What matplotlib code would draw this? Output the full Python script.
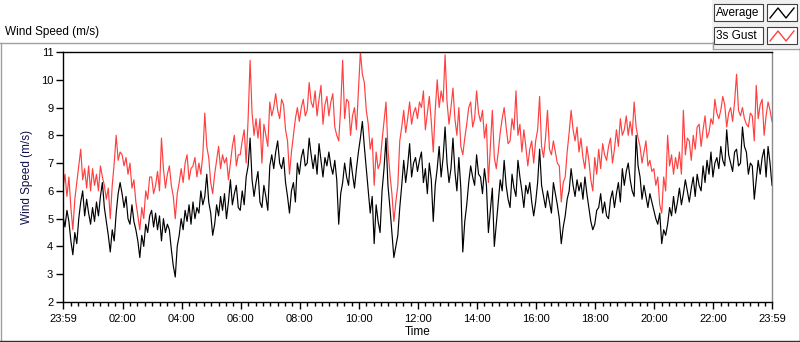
import numpy as np
import matplotlib.pyplot as plt
from matplotlib.lines import Line2D
from matplotlib.patches import Rectangle

plt.rcParams['font.family'] = ['Liberation Sans', 'DejaVu Sans']

# wind speed, one value every 4 minutes from 23:59 (15 per hour)
average = [
    5.1, 4.7, 5.3, 4.9, 4.2, 3.7, 4.5, 4.1, 5.0, 5.6, 6.0, 5.1, 5.7, 5.2, 4.8,
    5.4, 4.9, 5.6, 5.1, 5.8, 6.3, 5.4, 4.9, 4.4, 3.8, 4.6, 4.2, 5.2, 5.9, 6.3,
    5.9, 5.4, 5.8, 5.0, 4.8, 5.5, 4.9, 4.6, 4.2, 3.6, 4.4, 4.0, 4.8, 4.5, 5.1,
    5.3, 4.7, 5.2, 4.6, 5.1, 4.2, 5.0, 4.5, 4.8, 4.6, 3.9, 3.3, 2.9, 4.0, 4.4,
    5.0, 4.6, 5.3, 4.9, 5.5, 4.8, 5.6, 5.0, 5.4, 5.2, 6.0, 5.5, 5.8, 6.6, 5.6,
    5.2, 4.4, 4.8, 5.5, 5.1, 5.8, 5.3, 5.9, 5.0, 5.6, 6.4, 5.5, 5.9, 6.2, 5.4,
    5.3, 6.0, 5.5, 6.5, 6.9, 7.9, 6.4, 5.8, 6.3, 6.7, 5.6, 5.4, 6.2, 5.8, 5.3,
    6.9, 7.3, 6.8, 7.4, 7.8, 7.0, 6.8, 7.2, 6.3, 5.8, 5.2, 6.0, 6.3, 5.6, 7.0,
    6.6, 7.2, 7.5, 6.9, 7.0, 7.9, 7.3, 6.8, 7.3, 6.6, 7.7, 7.1, 6.5, 7.2, 6.9,
    7.4, 6.9, 6.6, 7.1, 6.4, 4.8, 5.9, 6.3, 7.0, 6.5, 6.2, 7.2, 6.6, 6.1, 6.8,
    7.4, 7.9, 8.5, 7.6, 6.8, 6.0, 5.2, 5.8, 4.1, 5.5, 4.9, 4.5, 6.0, 6.8, 7.9,
    6.2, 5.4, 4.5, 3.6, 4.0, 4.4, 5.4, 6.2, 7.1, 6.3, 6.9, 7.7, 6.5, 7.0, 7.2,
    6.7, 7.1, 7.4, 6.3, 6.8, 5.9, 7.0, 6.4, 4.9, 6.2, 6.8, 7.6, 6.5, 7.2, 8.3,
    7.0, 6.3, 6.8, 7.9, 6.7, 6.0, 7.2, 6.1, 3.8, 4.9, 5.5, 6.3, 6.9, 6.5, 6.2,
    7.3, 6.6, 6.5, 5.9, 6.8, 6.2, 4.5, 5.3, 6.1, 4.0, 4.8, 5.6, 6.4, 6.0, 7.1,
    6.2, 5.7, 5.4, 6.6, 6.1, 5.8, 7.1, 6.5, 6.0, 5.4, 6.2, 5.9, 6.3, 5.6, 5.1,
    5.6, 6.3, 7.5, 6.2, 5.8, 5.4, 6.0, 5.6, 5.2, 6.3, 5.9, 5.5, 5.0, 4.1, 4.7,
    5.1, 5.7, 6.0, 6.8, 6.2, 5.8, 6.4, 6.0, 6.3, 5.7, 6.5, 5.9, 5.4, 4.9, 4.6,
    4.8, 5.3, 5.4, 5.9, 5.2, 5.6, 5.1, 5.0, 5.7, 6.0, 5.4, 5.9, 6.3, 5.6, 6.8,
    6.2, 6.7, 7.0, 6.4, 6.0, 5.8, 8.0, 6.9, 6.5, 5.7, 6.2, 5.8, 5.4, 5.9, 5.6,
    5.3, 5.0, 4.8, 5.2, 4.1, 4.6, 4.4, 4.8, 5.4, 5.1, 5.8, 5.2, 5.6, 6.1, 5.5,
    5.9, 6.4, 6.0, 5.6, 6.1, 6.5, 5.8, 6.6, 6.2, 6.0, 6.9, 6.3, 7.1, 6.6, 7.4,
    6.5, 7.0, 7.2, 6.8, 7.6, 7.1, 6.9, 8.2, 7.3, 7.0, 6.7, 7.4, 7.5, 6.9, 7.0,
    8.3, 7.6, 7.4, 6.6, 7.0, 6.9, 5.7, 6.4, 7.1, 6.6, 7.2, 7.5, 6.5, 7.6, 7.0, 6.2,
]
gust = [
    6.1, 6.6, 5.8, 6.5, 5.4, 4.6, 5.7, 6.3, 6.9, 7.5, 6.4, 6.8, 6.1, 6.9, 6.0,
    6.8, 6.2, 6.6, 6.0, 6.9, 6.5, 6.2, 5.7, 6.1, 5.0, 6.2, 7.0, 8.0, 7.1, 7.4,
    7.3, 6.9, 7.2, 6.6, 7.0, 6.1, 6.4, 5.6, 5.1, 4.6, 5.4, 5.0, 6.0, 5.7, 6.5,
    6.5, 5.9, 6.2, 6.7, 6.0, 7.9, 6.8, 6.1, 6.6, 6.9, 6.2, 5.8, 5.0, 5.9, 6.3,
    6.8, 6.3, 7.0, 7.3, 6.4, 6.8, 6.9, 7.2, 6.5, 7.0, 6.6, 7.3, 8.8, 7.6, 7.2,
    6.3, 5.9, 6.6, 7.1, 7.6, 6.8, 7.3, 7.0, 7.2, 6.4, 7.0, 7.6, 8.0, 6.9, 7.3,
    7.3, 7.8, 8.2, 7.0, 8.6, 10.7, 8.8, 8.0, 8.6, 7.9, 8.6, 7.0, 8.4, 8.0, 7.6,
    9.2, 8.7, 9.0, 9.5, 8.9, 8.6, 9.3, 9.1, 8.2, 7.8, 6.6, 7.4, 8.0, 8.6, 9.0,
    8.5, 9.0, 9.3, 8.7, 8.9, 9.9, 9.2, 9.0, 9.6, 8.7, 9.3, 9.8, 8.4, 9.1, 9.4,
    8.7, 9.2, 9.5, 8.3, 8.0, 7.8, 9.0, 10.7, 8.6, 9.3, 9.2, 8.0, 8.7, 9.0, 8.2,
    9.6, 11.0, 10.2, 9.9, 8.9, 8.4, 7.5, 7.9, 6.2, 7.4, 6.8, 7.0, 7.8, 8.5, 9.2,
    7.5, 6.6, 5.9, 4.9, 5.6, 6.2, 7.8, 8.3, 8.9, 8.1, 8.6, 9.2, 8.4, 8.8, 9.0,
    8.6, 9.2, 9.0, 9.6, 8.2, 8.8, 9.4, 8.5, 7.4, 8.9, 10.0, 9.0, 9.6, 9.2, 10.9,
    9.2, 8.4, 9.0, 9.7, 8.6, 8.0, 9.0, 7.6, 7.3, 7.9, 8.4, 9.0, 9.2, 8.3, 8.6,
    9.6, 8.8, 8.5, 8.9, 7.9, 8.4, 6.3, 7.6, 8.9, 7.2, 6.8, 7.4, 8.1, 8.6, 9.0,
    8.3, 7.7, 7.8, 8.6, 8.2, 9.6, 8.0, 8.4, 7.4, 8.2, 7.6, 6.9, 7.5, 7.8, 7.0,
    7.8, 8.2, 9.4, 7.6, 7.2, 7.9, 8.9, 7.5, 7.3, 7.8, 7.4, 7.0, 6.9, 5.6, 6.3,
    6.5, 7.4, 8.1, 8.9, 8.2, 7.8, 8.3, 7.4, 7.9, 7.2, 6.8, 7.6, 7.1, 6.4, 6.0,
    7.2, 6.6, 7.5, 6.8, 7.7, 7.3, 7.1, 7.6, 7.9, 7.0, 7.5, 8.2, 7.6, 8.6, 8.0,
    8.2, 8.7, 8.0, 8.5, 8.0, 9.2, 8.3, 7.9, 7.6, 7.0, 7.4, 7.8, 6.9, 7.1, 6.7,
    6.8, 6.2, 6.5, 5.5, 5.2, 6.5, 6.0, 8.0, 6.9, 7.3, 6.6, 7.2, 6.8, 7.4, 6.6,
    8.9, 7.3, 7.9, 7.8, 7.1, 8.0, 7.5, 8.3, 8.4, 7.6, 8.2, 8.7, 7.9, 8.1, 8.6,
    8.4, 9.3, 8.8, 8.6, 8.9, 9.4, 9.1, 8.3, 8.8, 9.0, 8.5, 9.2, 10.2, 8.9, 8.7,
    9.0, 8.6, 8.4, 8.3, 8.8, 8.7, 7.8, 9.8, 8.6, 9.1, 9.3, 8.0, 8.7, 9.2, 8.9, 8.5,
]

tick_min = [0, 121, 241, 361, 481, 601, 721, 841, 961, 1081, 1201, 1321, 1440]
tick_labels = ['23:59', '02:00', '04:00', '06:00', '08:00', '10:00', '12:00',
               '14:00', '16:00', '18:00', '20:00', '22:00', '23:59']

W, H = 800, 342
fig = plt.figure(figsize=(8, 3.42), dpi=100)

x0, x1, ytop, ybot = 63, 772, 52, 302
ax = fig.add_axes([x0 / W, 1 - ybot / H, (x1 - x0) / W, (ybot - ytop) / H])

# minutes after 23:59, spread evenly over the day
t_avg = np.linspace(0, 1440, len(average))
t_gust = np.linspace(0, 1440, len(gust))
ax.plot(t_gust, gust, color='#ff4040', lw=0.85)
ax.plot(t_avg, average, color='black', lw=0.85)

ax.set_xlim(0, 1440)
ax.set_ylim(2, 11)
ax.set_yticks(range(2, 12))
ax.set_xticks(tick_min)
ax.set_xticklabels(tick_labels)
ax.set_xticks(np.arange(16, 1440, 15), minor=True)
ax.tick_params(axis='both', which='major', length=5, width=1, labelsize=8, pad=2)
ax.tick_params(axis='x', which='major', pad=4)
ax.tick_params(axis='x', which='minor', length=3, width=1)
for s in ['left', 'bottom', 'top']:
    ax.spines[s].set_color('black')
    ax.spines[s].set_linewidth(1)
ax.spines['right'].set_color('#8a8a8a')
ax.spines['right'].set_linewidth(1)

ax.set_xlabel('Time', fontsize=8.5, labelpad=1)
ax.set_ylabel('Wind Speed (m/s)', fontsize=8.5, color='#10104a', labelpad=6)

fig.text(5 / W, 1 - 32 / H, 'Wind Speed (m/s)', fontsize=8.5, va='center', ha='left')

# outer frame of the chart panel
def fline(xs, ys, color):
    fig.add_artist(Line2D([v / W for v in xs], [1 - v / H for v in ys],
                          color=color, lw=1))

fline([0, 712], [42.5, 42.5], '#a0a0a0')
fline([0.5, 0.5], [42.5, 341], '#a0a0a0')
fline([0, 800], [340.5, 340.5], '#303030')
fline([799.5, 799.5], [48, 341], '#303030')

# legend panel
fig.add_artist(Rectangle((712 / W, 1 - 48 / H), 88 / W, 48 / H,
                         facecolor='#f0f0f0', edgecolor='none'))
fline([712.5, 712.5], [42, 48.5], '#a0a0a0')
fline([712.5, 800], [48.5, 48.5], '#a0a0a0')

for row, (name, col) in enumerate([('Average', 'black'), ('3s Gust', '#ff4040')]):
    yt = 4 + row * 23
    fig.add_artist(Rectangle((714 / W, 1 - (yt + 17) / H), 49 / W, 17 / H,
                             facecolor='white', edgecolor='#404040', lw=0.8))
    fig.text(716 / W, 1 - (yt + 9) / H, name, fontsize=8.5, va='center', ha='left')
    fig.add_artist(Rectangle((767 / W, 1 - (yt + 17) / H), 30 / W, 17 / H,
                             facecolor='white', edgecolor='#404040', lw=0.8))
    fline([770, 778, 786, 794], [yt + 14, yt + 4, yt + 14, yt + 4], col)

fig.savefig('out.png', dpi=100)
